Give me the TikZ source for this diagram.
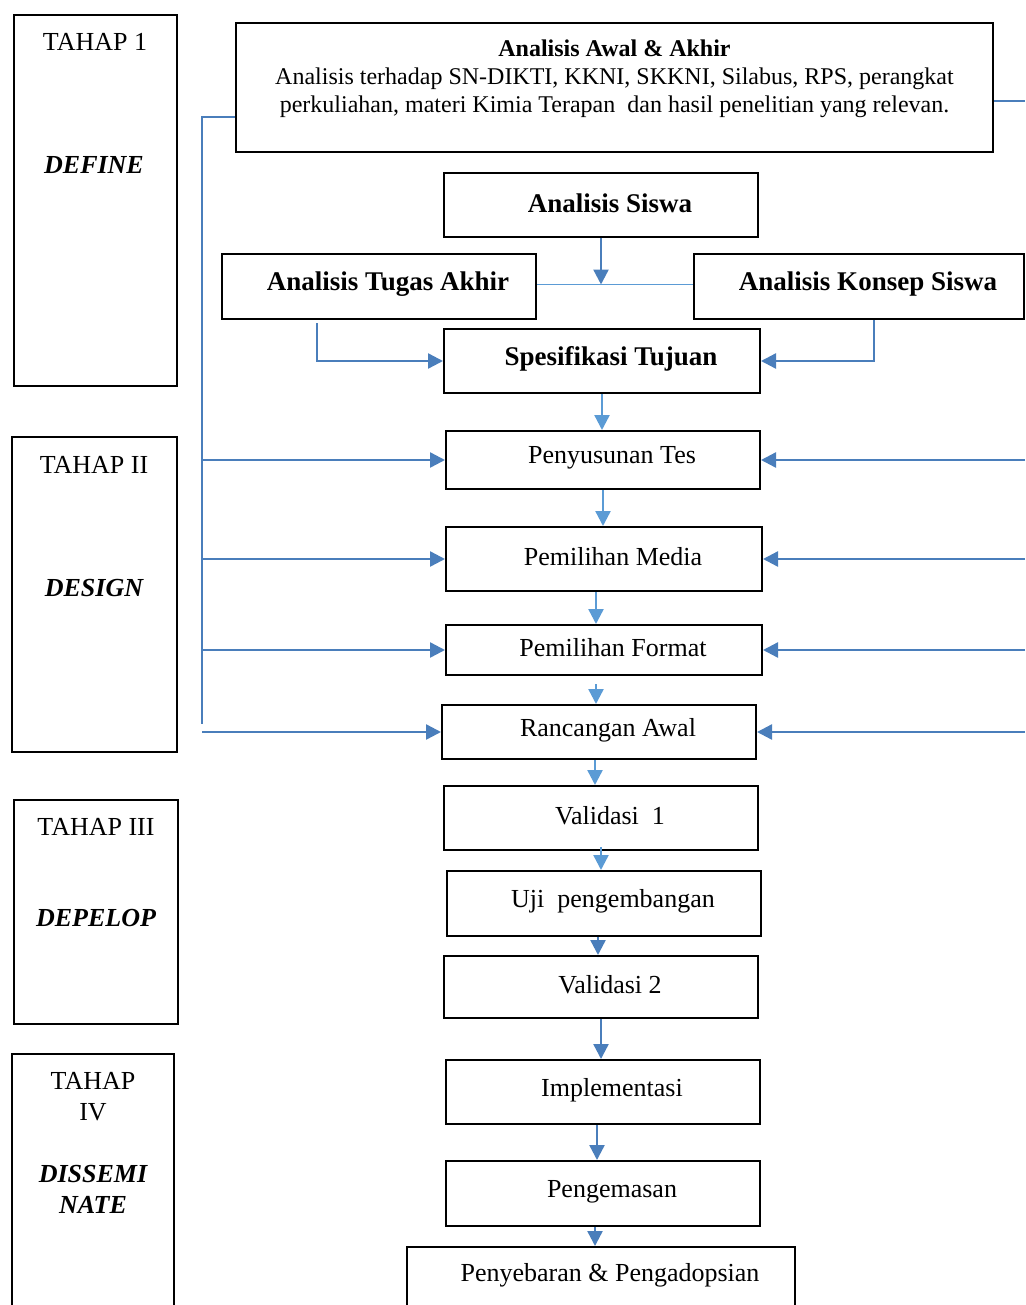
\documentclass[tikz,border=0pt]{standalone}
\usepackage{fontspec}
\setmainfont{Liberation Serif}
\usetikzlibrary{arrows.meta}

\definecolor{wordblue}{RGB}{74,126,187}
\definecolor{lightblue}{RGB}{91,155,213}

\newcommand{\lbl}[1]{\raisebox{1pt}[\height][\depth]{\hspace*{9pt}#1}}

\tikzset{
  box/.style={draw,line width=1pt,rectangle,inner sep=2pt,
    font=\fontsize{13}{15}\selectfont},
  titlebox/.style={box,font=\fontsize{13.5}{16}\selectfont\bfseries},
  stagebox/.style={draw,line width=1pt,rectangle,inner sep=0pt},
  stagetext/.style={font=\fontsize{13}{15.5}\selectfont,align=center},
  flow/.style={wordblue,line width=1.2pt,-{Triangle[length=7.5pt,width=7.5pt]}},
  flowlight/.style={flow,lightblue},
  bus/.style={wordblue,line width=1.2pt}
}

\begin{document}
\begin{tikzpicture}[x=0.5pt,y=-0.5pt]
    \useasboundingbox (0,0) rectangle (1025,1305);
    \clip (0,0) rectangle (1025,1305);

    \node [stagebox,minimum width=81.5pt,minimum height=185.5pt] (t1) at (95.5,200.5) {};
    \node [stagebox,minimum width=82.5pt,minimum height=157.5pt] (t2) at (94.5,594.5) {};
    \node [stagebox,minimum width=82pt,minimum height=112pt] (t3) at (96,912) {};
    \node [stagebox,minimum width=81pt,minimum height=140pt] (t4) at (93,1194) {};

    \node [stagetext] (t1a) at (95,42) {TAHAP 1};
    \node [stagetext] (t1b) at (94,165) {\bfseries\itshape DEFINE};
    \node [stagetext] (t2a) at (94,465) {TAHAP II};
    \node [stagetext] (t2b) at (94,588) {\bfseries\itshape DESIGN};
    \node [stagetext] (t3a) at (96,827) {TAHAP III};
    \node [stagetext] (t3b) at (96,918) {\bfseries\itshape DEPELOP};
    \node [stagetext] (t4a) at (93,1097) {TAHAP\\IV};
    \node [stagetext] (t4b) at (93,1189) {\bfseries\itshape DISSEMI\\\bfseries\itshape NATE};

    \node [stagebox,minimum width=378.5pt,minimum height=64.5pt] (awal) at (614.5,87.5) {};
    \node [align=center,font=\fontsize{12}{14}\selectfont] (awaltxt) at (614.5,79)
      {\textbf{Analisis Awal \& Akhir}\\
       Analisis terhadap SN-DIKTI, KKNI, SKKNI, Silabus, RPS, perangkat\\
       perkuliahan, materi Kimia Terapan\ \ dan hasil penelitian yang relevan.};

    \node [titlebox,minimum width=157pt,minimum height=32pt] (siswa) at (601,205) {\lbl{Analisis Siswa}};
    \node [titlebox,minimum width=157pt,minimum height=32.5pt] (tugas) at (379,286.5) {\lbl{Analisis Tugas Akhir}};
    \node [titlebox,minimum width=165pt,minimum height=32.5pt] (konsep) at (859,286.5) {\lbl{Analisis Konsep Siswa}};
    \node [titlebox,minimum width=158pt,minimum height=32pt] (tujuan) at (602,361) {\lbl{Spesifikasi Tujuan}};

    \node [box,minimum width=157pt,minimum height=29pt] (tes) at (603,460) {\lbl{Penyusunan Tes}};
    \node [box,minimum width=158pt,minimum height=32pt] (media) at (604,559) {\lbl{Pemilihan Media}};
    \node [box,minimum width=158pt,minimum height=25pt] (format) at (604,650) {\lbl{Pemilihan Format}};
    \node [box,minimum width=157pt,minimum height=27pt] (rancang) at (599,732) {\lbl{Rancangan Awal}};
    \node [box,minimum width=157pt,minimum height=32pt] (val1) at (601,818) {\lbl{Validasi\ \ 1}};
    \node [box,minimum width=157pt,minimum height=32.5pt] (uji) at (604,903.5) {\lbl{Uji\ \ pengembangan}};
    \node [box,minimum width=157pt,minimum height=31pt] (val2) at (601,987) {\lbl{Validasi 2}};
    \node [box,minimum width=157pt,minimum height=32pt] (impl) at (603,1092) {\lbl{Implementasi}};
    \node [box,minimum width=157pt,minimum height=32.5pt] (kemas) at (603,1193.5) {\lbl{Pengemasan}};
    \node [box,minimum width=194pt,minimum height=50pt] (sebar) at (601,1297) {};
    \node [font=\fontsize{13}{15}\selectfont] (sebartxt) at (610,1275) {Penyebaran \& Pengadopsian};

    \coordinate (busL) at (202,117);
    \coordinate (busLend) at (202,724);
    \coordinate (busR) at (1025,101);

    \draw [bus] (awal.west |- busL) -- (busL) -- (busLend);
    \draw [bus] (awal.east |- busR) -- (busR);

    \foreach \n in {tes,media,format,rancang}{
      \draw [flow] (busL |- \n.west) -- (\n.west);
      \draw [flow] (busR |- \n.east) -- (\n.east);
    }

    \draw [flow] (siswa.south) -- ([yshift=1pt]siswa.south |- tugas.east);
    \draw [lightblue,line width=0.6pt] ([yshift=1pt]tugas.east) -- ([yshift=1pt]konsep.west);
    \draw [flow] ([xshift=-31pt,yshift=-1.5pt]tugas.south) |- (tujuan.west);
    \draw [flow] ([xshift=7.5pt]konsep.south) |- (tujuan.east);

    \draw [flowlight] (tujuan.south) -- (tujuan.south |- tes.north);
    \draw [flowlight] (tes.south) -- (tes.south |- media.north);
    \draw [flowlight] ([xshift=-4pt]media.south) -- ([xshift=-4pt]media.south |- format.north);
    \draw [flowlight] ([xshift=-4pt,yshift=-4pt]format.south) -- ([xshift=-4pt]format.south |- rancang.north);
    \draw [flowlight] ([xshift=-2pt]rancang.south) -- ([xshift=-2pt]rancang.south |- val1.north);
    \draw [flowlight] ([yshift=2pt]val1.south) -- (val1.south |- uji.north);
    \draw [flow] ([xshift=-3pt]uji.south) -- ([xshift=-3pt]uji.south |- val2.north);
    \draw [flow] (val2.south) -- (val2.south |- impl.north);
    \draw [flow] ([xshift=-3pt]impl.south) -- ([xshift=-3pt]impl.south |- kemas.north);
    \draw [flow] ([xshift=-4pt]kemas.south) -- ([xshift=-4pt]kemas.south |- sebar.north);
\end{tikzpicture}
\end{document}
